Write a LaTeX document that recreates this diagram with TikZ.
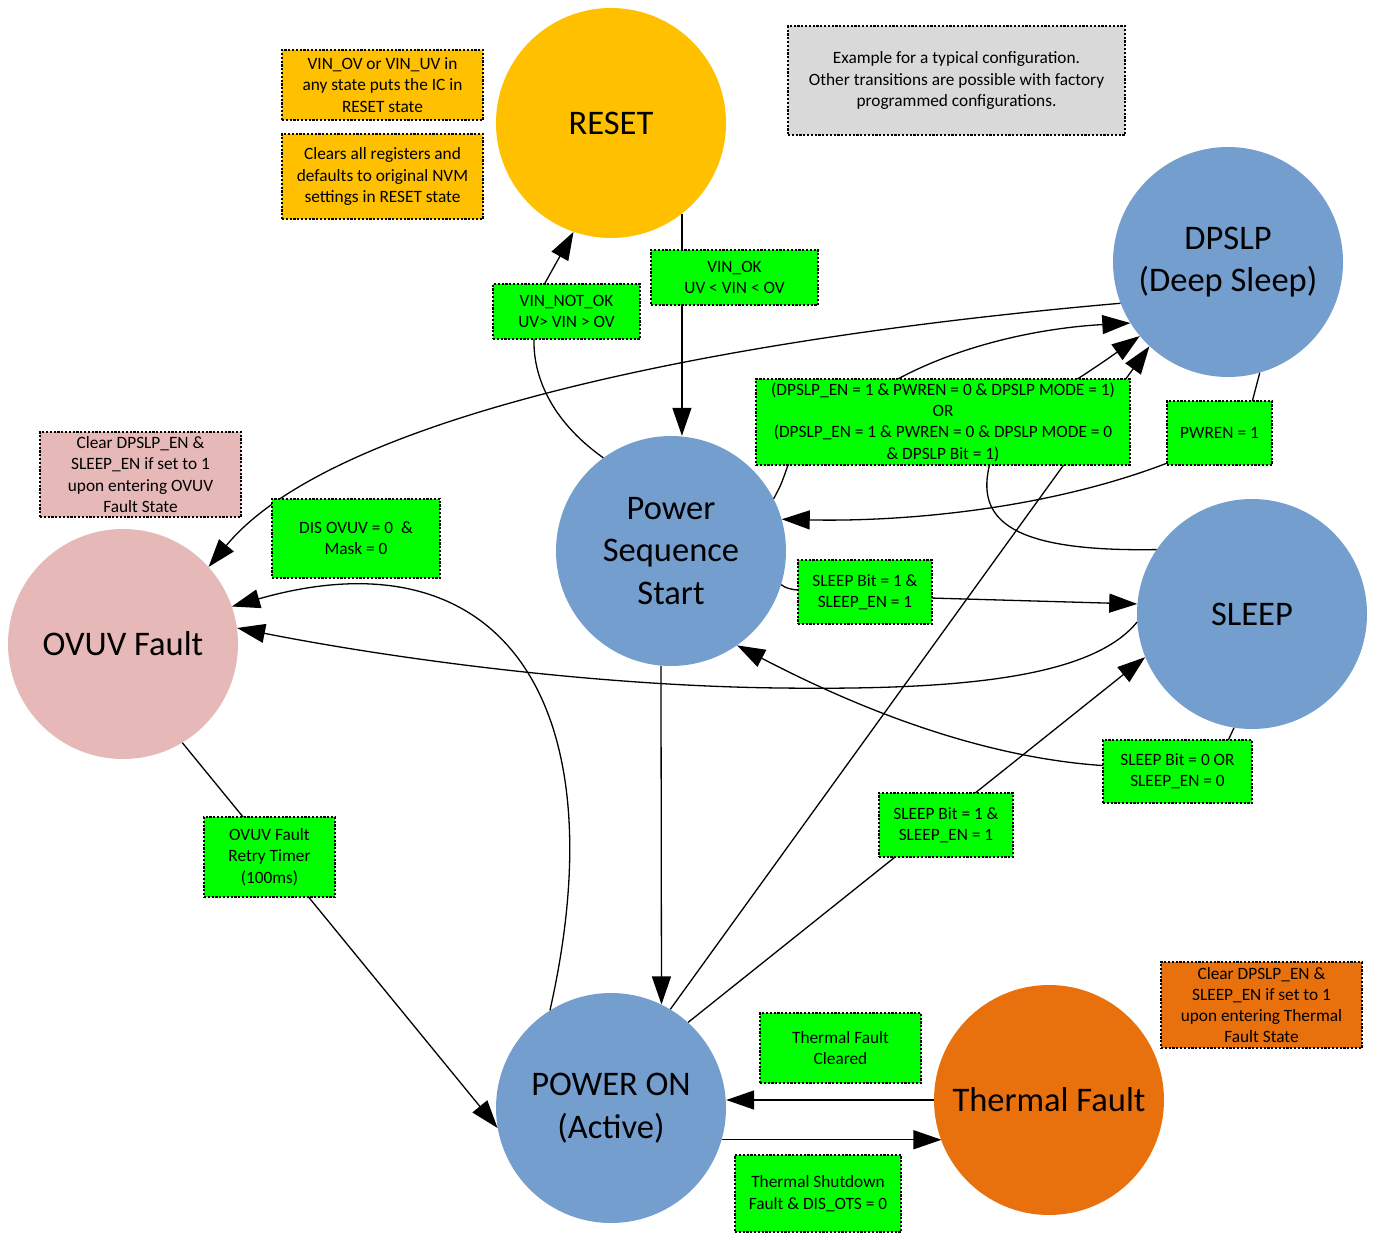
\documentclass[tikz,border=0pt]{standalone}
\usepackage{fontspec}
\setmainfont{Carlito}
\usetikzlibrary{arrows.meta}
\definecolor{cgreen}{RGB}{0,255,0}
\definecolor{cblue}{RGB}{115,158,206}
\definecolor{cyellow}{RGB}{255,192,0}
\definecolor{cpink}{RGB}{230,184,183}
\definecolor{corange}{RGB}{232,113,14}
\definecolor{cgray}{RGB}{217,217,217}
\newcommand{\myStateFont}{\fontsize{34.5}{42.5}\selectfont}
\newcommand{\myLblFont}{\fontsize{17.3}{21.3}\selectfont}
\begin{document}
\begin{tikzpicture}[x=1pt,y=-1pt,
  state/.style={circle, minimum size=230pt, inner sep=0pt, font=\myStateFont, align=center},
  boxed/.style={rectangle, draw=black, line width=1.6pt, dash pattern=on 2.2pt off 1.6pt, inner sep=0pt, align=center, font=\myLblFont},
  lbl/.style={boxed, fill=cgreen},
  conn/.style={line width=1.3pt, -{Triangle[length=28pt,width=19pt]}},
  plainline/.style={line width=1.3pt}
]
\useasboundingbox (0,0) rectangle (1375,1233);
\fill[white] (0,0) rectangle (1375,1233);

% states
\node[state, fill=cyellow] (reset) at (611,123) {RESET};
\node[state, fill=cblue] (dpslp) at (1228,262) {DPSLP\\(Deep Sleep)};
\node[state, fill=cblue] (pss) at (671,551) {Power\\Sequence\\Start};
\node[state, fill=cblue] (sleep) at (1252,614) {SLEEP};
\node[state, fill=cpink] (ovuv) at (123,644) {OVUV Fault};
\node[state, fill=cblue] (pon) at (611,1108) {POWER ON\\(Active)};
\node[state, fill=corange] (thermal) at (1049,1100) {Thermal Fault};

% connectors
\draw[conn] (reset.-52) -- (reset.-52 |- pss.north);
\draw[conn] (pss.126) .. controls (550,420) and (533,375) .. (534,339) -- (545,283) -- (reset.-109.5);
\draw[conn] (dpslp.201) .. controls (700,340) and (330,420) .. (ovuv.42);
\draw[conn] (pss.27) .. controls (781,485) .. (788,465) -- (896,380) .. controls (960,345) and (1040,328) .. (dpslp.212);
\draw[conn] (dpslp.286) -- (1250,410) -- (1175,460) .. controls (1050,510) and (900,522) .. (pss.16);
\draw[conn] (pss.-17) .. controls (785,588) and (792,590) .. (800,590) -- (930,598) -- (sleep.175);
\draw[conn] (sleep.261) -- (1226,745) -- (1110,766) .. controls (1000,760) and (880,720) .. (pss.-55);
\draw[conn] (sleep.184) .. controls (1090,680) and (950,690) .. (780,688) .. controls (600,686) and (400,660) .. (ovuv.8);
\draw[conn] (pon.122) .. controls (620,700) and (500,530) .. (ovuv.19);
\draw[conn] (ovuv.-59) -- (pon.190);
\draw[conn] (pss.-95) -- (pon.64);
\draw[conn] (pon.59) -- (dpslp.227);
\draw[conn] (pon.48) -- (sleep.202);
\draw[conn] (sleep.146) .. controls (1010,552) and (975,520) .. (990,463) .. controls (1000,420) and (1050,400) .. (dpslp.220);
\draw[conn] (thermal.west) -- (thermal.west -| pon.east);
\draw[conn] (pon.-16) -- (pon.-16 -| thermal.201);

% transition labels
\node[lbl, minimum width=147pt, minimum height=55pt] (vinnotok) at (566.5,311.5) {VIN\_NOT\_OK\\UV> VIN > OV};
\node[lbl, minimum width=167pt, minimum height=55pt] (vinok) at (734.5,277.5) {VIN\_OK\\UV < VIN < OV};
\node[lbl, minimum width=374pt, minimum height=86pt] (dpcond) at (943,422) {(DPSLP\_EN = 1 \& PWREN = 0 \& DPSLP MODE = 1)\\OR\\(DPSLP\_EN = 1 \& PWREN = 0 \& DPSLP MODE = 0\\\& DPSLP Bit = 1)};
\node[lbl, minimum width=105pt, minimum height=64pt] (pwren) at (1219.5,433) {PWREN = 1};
\node[lbl, minimum width=168pt, minimum height=79pt] (disovuv) at (356,538.5) {DIS OVUV = 0~ \&\\Mask = 0};
\node[lbl, minimum width=134pt, minimum height=64pt] (sleepa) at (865,592) {SLEEP Bit = 1 \&\\SLEEP\_EN = 1};
\node[lbl, minimum width=149pt, minimum height=63pt] (sleepoff) at (1177.5,771.5) {SLEEP Bit = 0 OR\\SLEEP\_EN = 0};
\node[lbl, minimum width=134pt, minimum height=64pt] (sleepb) at (946,825) {SLEEP Bit = 1 \&\\SLEEP\_EN = 1};
\node[lbl, minimum width=131pt, minimum height=80pt] (retry) at (269.5,857) {OVUV Fault\\Retry Timer\\(100ms)};
\node[lbl, minimum width=161pt, minimum height=70pt] (tclr) at (840.5,1048) {Thermal Fault\\Cleared};
\node[lbl, minimum width=166pt, minimum height=77pt] (tshut) at (818,1193.5) {Thermal Shutdown\\Fault \& DIS\_OTS = 0};

% notes
\node[boxed, fill=cyellow, minimum width=201pt, minimum height=70pt] (note1) at (382.5,85) {VIN\_OV or VIN\_UV in\\any state puts the IC in\\RESET state};
\node[boxed, fill=cyellow, minimum width=201pt, minimum height=85pt] (note2) at (382.5,176.5) {Clears all registers and\\defaults to original NVM\\settings in RESET state};
\node[boxed, fill=cgray, minimum width=337pt, minimum height=109pt] (note3) at (956.5,80.5) {Example for a typical configuration.\\Other transitions are possible with factory\\programmed configurations.};
\node[boxed, fill=cpink, minimum width=201pt, minimum height=85pt] (note4) at (140.5,474.5) {Clear DPSLP\_EN \&\\SLEEP\_EN if set to 1\\upon entering OVUV\\Fault State};
\node[boxed, fill=corange, minimum width=201pt, minimum height=86pt] (note5) at (1261.5,1005) {Clear DPSLP\_EN \&\\SLEEP\_EN if set to 1\\upon entering Thermal\\Fault State};
\end{tikzpicture}
\end{document}
